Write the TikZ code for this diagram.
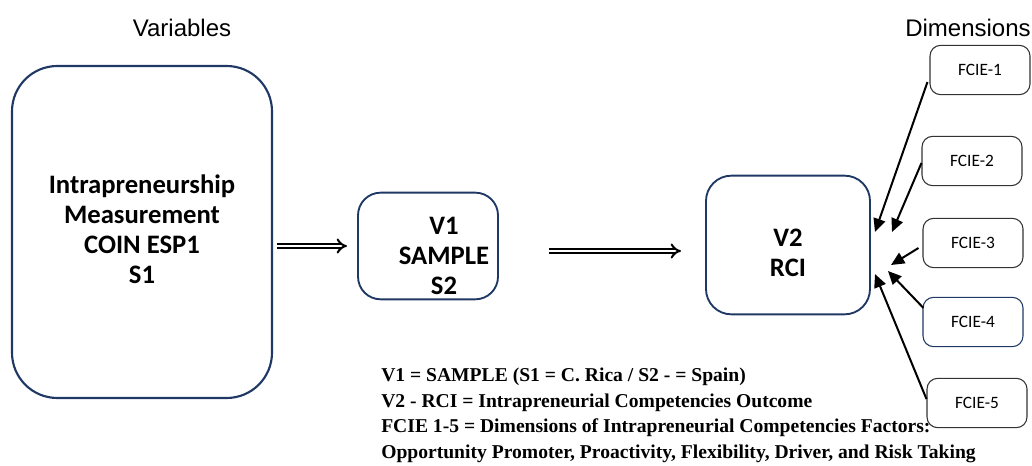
\documentclass[tikz,border=0pt]{standalone}
\usepackage{fontspec}
\setmainfont{Carlito}
\newfontfamily\arialf{Liberation Sans}
\newfontfamily\timesf{Liberation Serif}
\usetikzlibrary{arrows.meta}
\definecolor{navy}{HTML}{1F3864}
\begin{document}
\begin{tikzpicture}[x=0.75pt,y=-0.75pt,
  boxtext/.style={align=center,font=\fontsize{20}{22.5}\selectfont\bfseries},
  bigbox/.style={draw=navy,line width=1.6pt,rounded corners=34pt,minimum width=195pt,minimum height=249pt},
  midbox/.style={draw=navy,line width=1.4pt},
  fbox/.style={draw=black!80,line width=0.8pt,rounded corners=8pt,minimum width=75pt,minimum height=37pt,font=\fontsize{13}{15}\selectfont},
  dblarrow/.style={double,double distance=2.2pt,line width=1.5pt,-{Implies[length=7pt]}},
  farrow/.style={line width=1.5pt,-{Triangle[length=10pt,width=9pt]}},
  lbl/.style={font=\arialf\fontsize{18}{20}\selectfont}]
\useasboundingbox (0,0) rectangle (1032,466);
\node[lbl] (variables) at (182,28) {Variables};
\node[lbl] (dimensions) at (968,28) {Dimensions};
\node[bigbox] (s1) at (142,232) {};
\node[boxtext] (s1t) at (142,229) {Intrapreneurship\\Measurement\\COIN ESP1\\S1};
\node[midbox,rounded corners=17pt,minimum width=105pt,minimum height=80pt] (v1) at (428,246) {};
\node[boxtext] (v1t) at (444,256) {V1\\SAMPLE\\S2};
\node[midbox,rounded corners=19pt,minimum width=123pt,minimum height=104pt] (v2) at (788,245) {};
\node[boxtext] (v2t) at (788,253) {V2\\RCI};
\coordinate (a1s) at (277,246);
\coordinate (a1e) at (347,246);
\coordinate (a2s) at (549,251);
\coordinate (a2e) at (681,251);
\draw[dblarrow] (a1s) -- (a1e);
\draw[dblarrow] (a2s) -- (a2e);
\node[fbox] (f1) at (980,70) {FCIE-1};
\node[fbox] (f2) at (972,161) {FCIE-2};
\node[fbox] (f3) at (973,243) {FCIE-3};
\node[fbox,draw=navy] (f4) at (973,322) {FCIE-4};
\node[fbox] (f5) at (977,403) {FCIE-5};
\coordinate (t1) at (875,232);
\coordinate (t2) at (892,232);
\coordinate (t3) at (891,265);
\coordinate (t4) at (888,271);
\coordinate (t5) at (875,274);
\draw[farrow] (f1.west) ++(-2,12) -- (t1);
\draw[farrow] (f2.west) ++(0,2) -- (t2);
\draw[farrow] (f3.west) ++(-4,5) -- (t3);
\draw[farrow] (f4.west) ++(1,-14) -- (t4);
\draw[farrow] (f5.west) ++(0,-4) -- (t5);
\node[anchor=north west,inner sep=0pt,align=left,font=\timesf\bfseries\fontsize{14.7}{19.1}\selectfont] (legend) at (381,368) {V1 = SAMPLE (S1 = C. Rica / S2 - = Spain)\\V2 - RCI = Intrapreneurial Competencies Outcome\\FCIE 1-5 = Dimensions of Intrapreneurial Competencies Factors:\\Opportunity Promoter, Proactivity, Flexibility, Driver, and Risk Taking};
\end{tikzpicture}
\end{document}
